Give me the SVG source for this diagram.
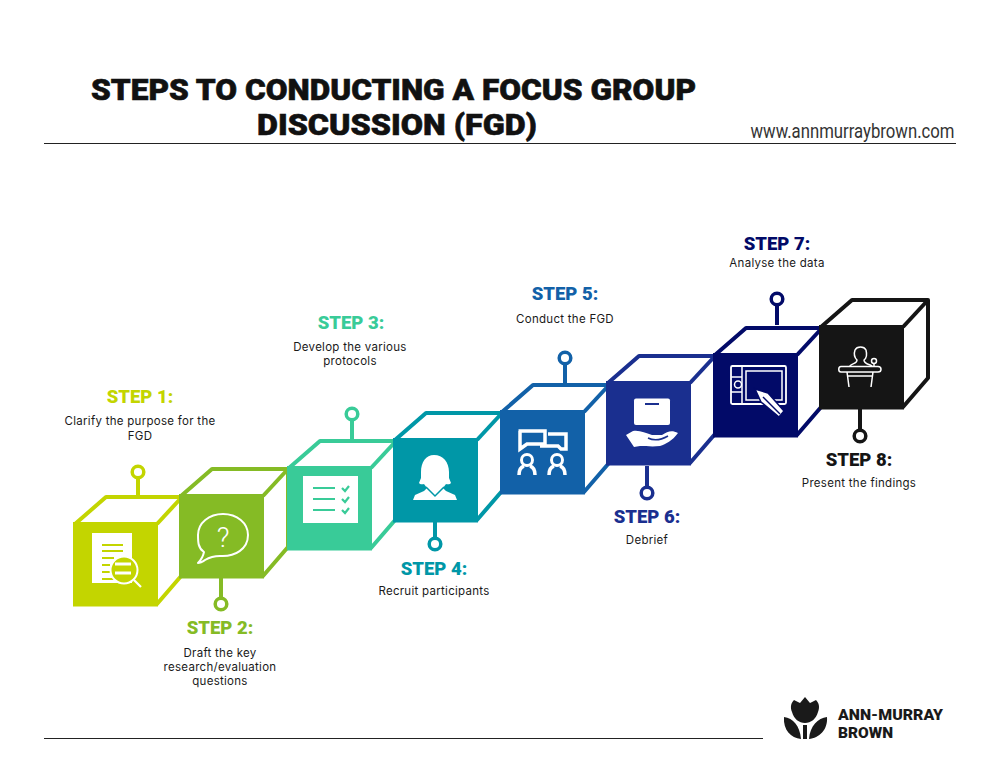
<svg xmlns="http://www.w3.org/2000/svg" xmlns:xlink="http://www.w3.org/1999/xlink" width="1000" height="772" viewBox="0 0 1000 772">
<style>
.title{font:900 30px Roboto,"Liberation Sans",sans-serif;fill:#111;stroke:#111;stroke-width:.6px;text-anchor:middle}
.web{font:400 20.5px Roboto,"Liberation Sans",sans-serif;fill:#333;text-anchor:middle}
.st{font:900 18.5px Roboto,"Liberation Sans",sans-serif;text-anchor:middle}
.d{font:400 11.5px Inter,"Liberation Sans",sans-serif;fill:#1a1a1a;text-anchor:middle;letter-spacing:.28px}
.brand{font:900 15px Roboto,"Liberation Sans",sans-serif;fill:#1a1a1a}
.i{fill:#fff;stroke:none}
.l{fill:none;stroke:#fff;stroke-width:2;stroke-linecap:round;stroke-linejoin:round}
</style>
<defs>
<g id="cube">
<path d="M2 2L33-25H109V53L84 82H2Z" fill="#fff" stroke="currentColor" stroke-width="4" stroke-linejoin="round"/>
<path d="M84 2L109-25" fill="none" stroke="currentColor" stroke-width="4"/>
<rect width="85" height="84.500" fill="currentColor"/>
</g>
</defs>
<text class="title" x="393.500" y="99.500" textLength="605" lengthAdjust="spacingAndGlyphs">STEPS TO CONDUCTING A FOCUS GROUP</text>
<text class="title" x="397" y="135" textLength="280" lengthAdjust="spacingAndGlyphs">DISCUSSION (FGD)</text>
<text class="web" x="852.500" y="138" textLength="204" lengthAdjust="spacingAndGlyphs">www.annmurraybrown.com</text>
<path d="M44 143.500H956M44 738.500H763" stroke="#222" stroke-width="1.200" fill="none"/>

<g id="connectors" fill="none" stroke-width="4">
<path d="M138 479V497" stroke="#c3d500"/>
<path d="M221 578V598" stroke="#85bb25"/>
<path d="M352 421V441" stroke="#39cb98"/>
<path d="M435 522V538" stroke="#0097a7"/>
<path d="M565 364V384" stroke="#1261a8"/>
<path d="M647 466V487" stroke="#1a2f8f"/>
<path d="M777 305V325" stroke="#020a68"/>
<path d="M860 409V430" stroke="#151515"/>
<g fill="#fff" stroke-width="3.500">
<circle cx="138" cy="472" r="5.800" stroke="#c3d500"/>
<circle cx="221" cy="604" r="5.800" stroke="#85bb25"/>
<circle cx="352" cy="414" r="5.800" stroke="#39cb98"/>
<circle cx="435" cy="544" r="5.800" stroke="#0097a7"/>
<circle cx="565" cy="358" r="5.800" stroke="#1261a8"/>
<circle cx="647" cy="493" r="5.800" stroke="#1a2f8f"/>
<circle cx="777" cy="299" r="5.800" stroke="#020a68"/>
<circle cx="860" cy="436" r="5.800" stroke="#151515"/>
</g>
</g>

<g id="step1">
<use xlink:href="#cube" href="#cube" x="73" y="522" color="#c3d500"/>
<path class="i" d="M92 533H132V583H92Z"/>
<path d="M102 545H123M102 551H123M102 558H114M102 565H110M102 572H110M102 579H114" stroke="#c3d500" stroke-width="2" fill="none"/>
<circle cx="124" cy="570" r="13.500" fill="#c3d500" stroke="#fff" stroke-width="2"/>
<path d="M113 564H129M113 573H129" stroke="#fff" stroke-width="3" fill="none" transform="translate(2 0)"/>
<path d="M134 580L141 587" stroke="#fff" stroke-width="2.200"/>
<text class="st" x="140" y="403" fill="#c3d500">STEP 1:</text>
<text class="d" x="140" y="425">Clarify the purpose for the</text>
<text class="d" x="140" y="440">FGD</text>
</g>
<g id="step2">
<use xlink:href="#cube" href="#cube" x="179" y="494" color="#85bb25"/>
<path class="l" d="M223 514C237 514 248 523 248 535C248 549 235 557 220 556C214 556 210 557 205 560C203 562 199 563 198 563C201 560 203 557 204 552C198 548 198 542 198 535C198 523 209 514 223 514Z"/>
<text x="223" y="547" font-family="Roboto,sans-serif" font-weight="300" font-size="28" fill="#fff" text-anchor="middle">?</text>
<text class="st" x="220" y="634" fill="#85bb25">STEP 2:</text>
<text class="d" x="220" y="657">Draft the key</text>
<text class="d" x="220" y="671">research/evaluation</text>
<text class="d" x="220" y="685">questions</text>
</g>
<g id="step3">
<use xlink:href="#cube" href="#cube" x="287" y="466" color="#39cb98"/>
<rect class="i" x="303" y="476" width="55" height="47"/>
<path d="M313 488H335M313 499H335M313 510H335" stroke="#39cb98" stroke-width="2" fill="none"/>
<path d="M342 488L345 491L349 486M342 499L345 502L349 497M342 510L345 513L349 508" stroke="#39cb98" stroke-width="2.200" fill="none"/>
<text class="st" x="351" y="329" fill="#39cb98">STEP 3:</text>
<text class="d" x="350" y="351">Develop the various</text>
<text class="d" x="350" y="365">protocols</text>
</g>
<g id="step4">
<use xlink:href="#cube" href="#cube" x="393" y="438" color="#0097a7"/>
<path class="i" d="M434 455C443 455 449 462 449 472V478L451 483C450 485 446 484 446 484L443 488L446 491L455 495L457 500H413L415 495L424 491L427 488L424 484C424 484 420 485 419 483L421 478V472C421 462 426 455 434 455Z"/>
<path d="M426 487L435 496L444 487" fill="none" stroke="#0097a7" stroke-width="1.500"/>
<text class="st" x="434" y="575" fill="#0097a7">STEP 4:</text>
<text class="d" x="434" y="595">Recruit participants</text>
</g>
<g id="step5">
<use xlink:href="#cube" href="#cube" x="500" y="410" color="#1261a8"/>
<g fill="none" stroke="#fff" stroke-width="3.500">
<path d="M518.500 431H545V444H527L520 449V431Z"/>
<path d="M548 434H566V449H561L558 446H540"/>
<circle cx="527" cy="460" r="5.500" stroke-width="3"/>
<circle cx="557" cy="460" r="5.500" stroke-width="3"/>
<path d="M519 475C519 470 521 467 524 466M535 475C535 470 533 467 530 466M549 475C549 470 551 467 554 466M565 475C565 470 563 467 560 466"/>
</g>
<text class="st" x="565" y="300" fill="#1261a8">STEP 5:</text>
<text class="d" x="565" y="323">Conduct the FGD</text>
</g>
<g id="step6">
<use xlink:href="#cube" href="#cube" x="606" y="381" color="#1a2f8f"/>
<rect class="i" x="634" y="398.500" width="36" height="26.500" rx="2"/>
<path d="M645 404H659" stroke="#1a2f8f" stroke-width="2" fill="none"/>
<path class="i" d="M626 435L633 431C640 430 645 433 652 435L662 435C668 431 672 430 678 433C672 441 666 444 660 446C652 447 646 446 640 446L634 447Z"/>
<path d="M648 438C654 441 661 440 668 436" stroke="#1a2f8f" stroke-width="1.500" fill="none"/>
<text class="st" x="647" y="523" fill="#1a2f8f">STEP 6:</text>
<text class="d" x="647" y="544">Debrief</text>
</g>
<g id="step7">
<use xlink:href="#cube" href="#cube" x="713" y="353" color="#020a68"/>
<rect x="731" y="366" width="55" height="38" rx="1.500" fill="none" stroke="#fff" stroke-width="1.800"/>
<path d="M742 367V403M731 377H742M731 392H742" stroke="#fff" stroke-width="1.500" fill="none"/>
<path d="M746 371H782V400H746Z" stroke="#fff" stroke-width="1.500" fill="none"/>
<circle cx="738" cy="384.500" r="3.500" fill="none" stroke="#fff" stroke-width="1.500"/>
<path d="M755 389L768 393L784 411L779 417L761 402Z" fill="#fff" stroke="#020a68" stroke-width="1.500"/>
<path d="M763 397L780 414" stroke="#020a68" stroke-width="1.500" fill="none"/>
<text class="st" x="777" y="250" fill="#020a68">STEP 7:</text>
<text class="d" x="777" y="267">Analyse the data</text>
</g>
<g id="step8">
<use xlink:href="#cube" href="#cube" x="819" y="325" color="#151515"/>
<path class="l" style="stroke-width:1.500" d="M850 366C852 363 857 364 857 360C854 357 854 353 855 350C857 346 864 346 866 350C867 354 867 358 864 360C864 364 869 364 872 366"/>
<circle cx="874" cy="361" r="2.500" fill="none" stroke="#fff" stroke-width="1.500"/>
<path d="M874 364V366.500M841 366.500H878C882 366.500 882 372 878 372H841C838 372 838 366.500 841 366.500ZM847 372L849 387M873 372L871 387M847 376H873" fill="none" stroke="#fff" stroke-width="1.500"/>
<text class="st" x="859" y="466" fill="#151515">STEP 8:</text>
<text class="d" x="859" y="487">Present the findings</text>
</g>
<g id="brand">
<path fill="#1a1a1a" d="M805 697L810 703L816 700C819 703 820 707 818 712C816 719 811 723 805 723C799 723 794 719 792 712C790 707 791 703 794 700L800 703Z"/>
<path fill="#1a1a1a" d="M803 739H807V725H803ZM784 717C793 718 800 726 801 739C791 738 783 730 784 717ZM827 717C818 718 810 726 809 739C819 738 828 730 827 717Z"/>
<text class="brand" x="838" y="720" textLength="105" lengthAdjust="spacingAndGlyphs">ANN-MURRAY</text>
<text class="brand" x="838" y="738" textLength="55" lengthAdjust="spacingAndGlyphs">BROWN</text>
</g>
</svg>
